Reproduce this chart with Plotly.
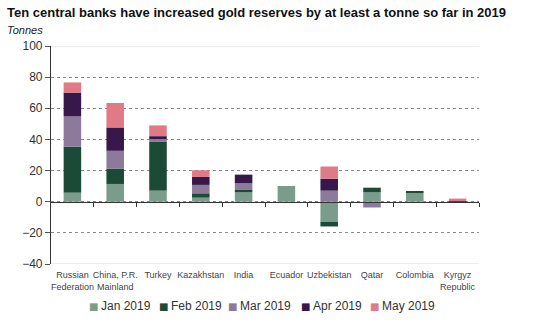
import plotly.graph_objects as go

categories = ["Russian<br>Federation", "China, P.R.<br>Mainland", "Turkey", "Kazakhstan", "India",
              "Ecuador", "Uzbekistan", "Qatar", "Colombia", "Kyrgyz<br>Republic"]
months = ["Jan 2019", "Feb 2019", "Mar 2019", "Apr 2019", "May 2019"]
jan = [5.8, 11.4, 7.1, 2.6, 6.0, 10.1, -12.9, 6.0, 5.8, 0.0]
feb = [29.5, 9.9, 31.6, 2.8, 1.9, 0.0, -3.0, 3.0, 0.5, -0.7]
mar = [19.5, 11.4, 1.5, 5.4, 3.9, 0.0, 7.1, -3.7, 0.0, 0.0]
apr = [15.3, 15.0, 1.9, 5.1, 5.6, 0.0, 7.7, 0.0, 0.0, 0.3]
may = [6.5, 15.7, 6.9, 4.3, 0.0, 0.0, 7.8, 0.0, 0.0, 1.7]
colors = ["#7a9c8c", "#1b4a36", "#8d7a9b", "#36184a", "#df7a86"]
y_ticks = [-40, -20, 0, 20, 40, 60, 80, 100]

series = [jan, feb, mar, apr, may]
xpos = list(range(len(categories)))

fig = go.Figure()
for name, vals, col in zip(months, series, colors):
    fig.add_trace(go.Bar(x=xpos, y=vals, name=name, marker=dict(color=col, line=dict(width=0)),
                         width=0.41, showlegend=False))

font = "Liberation Sans, Arial, sans-serif"
fig.update_layout(
    barmode="relative",
    width=539, height=327,
    margin=dict(l=51, r=60, t=46, b=63, autoexpand=False),
    paper_bgcolor="white", plot_bgcolor="white",
    font=dict(family=font, color="#333333"),
    showlegend=False,
    xaxis=dict(range=[-0.5, 9.5], tickmode="array", tickvals=xpos, ticktext=categories,
               showgrid=False, zeroline=False, showline=False, ticks="",
               tickfont=dict(size=9, color="#444444"), tickangle=0, automargin=False,
               ticklabelstandoff=4),
    xaxis2=dict(range=[-0.5, 9.5], overlaying="x", anchor="free", position=40 / 140,
                side="bottom", showline=True, linecolor="#333333", linewidth=1.2,
                tickmode="array", tickvals=[i + 0.5 for i in xpos], ticks="outside",
                ticklen=4, tickcolor="#333333", showticklabels=False, showgrid=False,
                zeroline=False),
    yaxis=dict(range=[-40, 100], tickmode="array", tickvals=y_ticks,
               showgrid=True, gridcolor="#8a8a8a", griddash="dot", gridwidth=1,
               zeroline=False, showline=True, linecolor="#333333", linewidth=1.2,
               ticks="outside", ticklen=5, tickcolor="#555555",
               tickfont=dict(size=12, color="#333333"), automargin=False),
)
# invisible trace to activate xaxis2
fig.add_trace(go.Scatter(x=[-0.5], y=[0], xaxis="x2", mode="markers",
                         marker=dict(opacity=0), showlegend=False, hoverinfo="skip"))

for yv in (100, -40):
    fig.add_shape(type="line", xref="paper", yref="y", x0=0, x1=1, y0=yv, y1=yv,
                  line=dict(color="#d9d9d9", width=1.2), layer="between")

# legend built from text annotations (small squares + labels)
legend_x = [93, 163, 232, 305, 374]
for lx, name, col in zip(legend_x, months, colors):
    fig.add_annotation(text="■", xref="paper", yref="paper", x=(lx - 51) / 428, y=-(306 - 264) / 218,
                       xanchor="center", yanchor="middle", showarrow=False,
                       font=dict(size=10, color=col, family="DejaVu Sans"))
    fig.add_annotation(text=name, xref="paper", yref="paper", x=(lx + 6 - 51) / 428, y=-(306 - 264) / 218,
                       xanchor="left", yanchor="middle", showarrow=False,
                       font=dict(size=12, color="#333333", family=font))

fig.add_annotation(text="<b>Ten central banks have increased gold reserves by at least a tonne so far in 2019</b>",
                   xref="paper", yref="paper", x=-46 / 428, y=1 + 33 / 218, xanchor="left", yanchor="middle",
                   showarrow=False, font=dict(size=13, color="#111111", family=font))
fig.add_annotation(text="<i>Tonnes</i>", xref="paper", yref="paper", x=-46 / 428, y=1 + 16 / 218,
                   xanchor="left", yanchor="middle", showarrow=False,
                   font=dict(size=11, color="#222222", family=font))

fig.write_html("out.html")
